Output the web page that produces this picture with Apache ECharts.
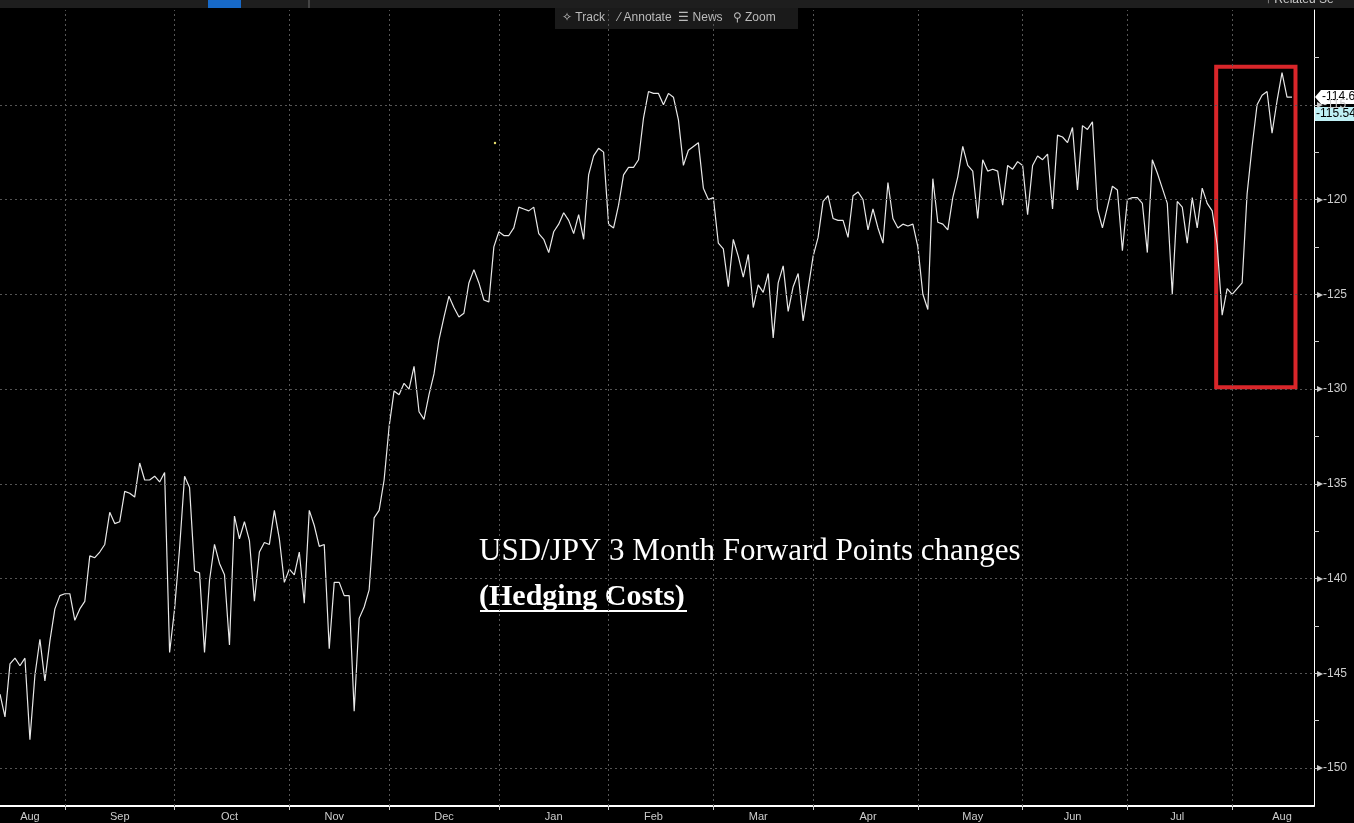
<!DOCTYPE html>
<html lang="en">
<head>
  <meta charset="UTF-8">
  <title>USD/JPY 3M Forward Points</title>
  <script src="https://cdn.jsdelivr.net/npm/echarts@6/dist/echarts.min.js"></script>
  <style>
    html, body { margin: 0; padding: 0; background: #000; }
    #chart { width: 1354px; height: 823px; }
  </style>
</head>
<body>
<div id="chart"></div>
<script>
  // daily forward points (Aug -> Aug)
  const points = [
    -146.1,-147.3,-144.5,-144.2,-144.6,-144.2,-148.5,-145.1,-143.2,-145.4,-143.3,-141.6,-140.9,-140.8,-140.8,-142.2,-141.6,-141.2,-138.8,-138.9,
    -138.6,-138.2,-136.5,-137.1,-137.0,-135.4,-135.5,-135.7,-133.9,-134.8,-134.8,-134.6,-134.9,-134.4,-143.9,-141.6,-138.4,-134.6,-135.2,-139.6,
    -139.7,-143.9,-140.1,-138.2,-139.2,-139.8,-143.5,-136.7,-137.9,-137.0,-138.0,-141.2,-138.6,-138.1,-138.2,-136.4,-137.9,-140.2,-139.5,-139.8,
    -138.6,-141.3,-136.4,-137.2,-138.3,-138.2,-143.7,-140.2,-140.2,-140.9,-140.9,-147.0,-142.1,-141.5,-140.6,-136.8,-136.4,-134.8,
    -132.0,-130.1,-130.3,-129.7,-130.0,-128.8,-131.2,-131.6,-130.3,-129.2,-127.4,-126.2,-125.1,-125.7,-126.2,-126.0,-124.4,-123.7,-124.4,-125.3,
    -125.4,-122.5,-121.7,-121.9,-121.9,-121.5,-120.4,-120.5,-120.6,-120.4,-121.8,-122.1,-122.8,-121.7,-121.3,-120.7,-121.1,-121.8,-120.8,-122.1,
    -118.7,-117.7,-117.3,-117.5,-121.3,-121.5,-120.3,-118.7,-118.3,-118.3,-117.9,-115.7,-114.3,-114.4,-114.4,-115.0,-114.4,-114.6,-115.8,-118.2,
    -117.4,-117.2,-117.0,-119.4,-120.0,-119.9,-122.3,-122.6,-124.6,-122.1,
    -123.0,-124.1,-122.9,-125.7,-124.5,-124.9,-123.9,-127.3,-124.4,-123.5,-125.9,-124.6,-123.9,-126.4,-124.7,-123.0,-122.0,-120.1,-119.8,-121.0,
    -121.1,-121.1,-122.0,-119.8,-119.6,-120.0,-121.6,-120.5,-121.5,-122.3,-119.1,-121.0,-121.5,-121.3,-121.4,-121.3,-122.5,-125.0,-125.8,-118.9,
    -121.2,-121.3,-121.6,-119.9,-118.8,-117.2,-118.2,-118.5,-121.0,-117.9,-118.5,-118.4,-118.5,-120.3,-118.2,-118.4,-118.0,-118.2,-120.8,-118.2,
    -117.7,-117.9,-117.6,-120.5,-116.6,-116.7,-117.0,-116.2,-119.5,-116.1,-116.3,-115.9,
    -120.5,-121.5,-120.4,-119.3,-119.5,-122.7,-120.0,-119.9,-119.9,-120.2,-122.8,-117.9,-118.6,-119.4,-120.2,-125.0,-120.1,-120.4,-122.3,-119.9,
    -121.5,-119.4,-120.2,-120.6,-122.4,-126.1,-124.7,-125.0,-124.7,-124.4,-119.7,-117.2,-115.0,-114.5,-114.3,-116.5,-114.8,-113.3,-114.6,-114.6
  ];
  // day index of each month boundary, and of each month label
  const monthTicks = [13, 35, 58, 78, 100, 122, 143, 163, 184, 205, 226, 247];
  const monthLabelPos = [6, 24, 46, 67, 89, 111, 131, 152, 174, 195, 215, 236, 257];
  const monthLabels = ['Aug','Sep','Oct','Nov','Dec','Jan','Feb','Mar','Apr','May','Jun','Jul','Aug'];
  const yTicks = [-150, -145, -140, -135, -130, -125, -120, -115];
  const yMinor = [-147.5, -142.5, -137.5, -132.5, -127.5, -122.5, -117.5, -112.5];
  const boxTop = -113.0, boxBottom = -129.9;

  const chart = echarts.init(document.getElementById('chart'));
  const n = points.length;
  const xMax = (n - 1) * 1314 / 1292;
  const data = points.map((v, i) => [i, v]);
  const allTicks = yTicks.concat(yMinor).sort((a, b) => a - b);

  const option = {
    backgroundColor: '#000',
    animation: false,
    grid: { left: 0, right: 40, top: 10, bottom: 17 },
    xAxis: [{
      type: 'value', min: 0, max: xMax,
      axisLine: { show: true, onZero: false, lineStyle: { color: '#fff', width: 2 } },
      axisTick: { show: true, customValues: monthTicks, length: 4, lineStyle: { color: '#ccc' } },
      axisLabel: { show: true, customValues: monthLabelPos, color: '#ccc', fontSize: 11, fontFamily: 'Liberation Sans',
        margin: 5, formatter: v => monthLabels[monthLabelPos.indexOf(v)] || '' },
      splitLine: { show: false }
    }],
    yAxis: {
      type: 'value', position: 'right', min: -152, max: -110,
      axisLine: { show: true, onZero: false, lineStyle: { color: '#fff', width: 1 } },
      axisTick: { show: true, customValues: allTicks, length: 5, lineStyle: { color: '#ccc' } },
      axisLabel: { customValues: yTicks, color: '#ccc', fontSize: 12, fontFamily: 'Liberation Sans', margin: 3,
        formatter: v => '▸-' + Math.abs(v) },
      splitLine: { show: false }
    },
    series: [{
      type: 'line', data: data, symbol: 'none', silent: true,
      lineStyle: { color: '#e8e8e8', width: 1.2 },
      markLine: {
        silent: true, symbol: 'none', label: { show: false },
        lineStyle: { color: '#555', type: [2, 3], width: 1 },
        data: yTicks.map(v => ({ yAxis: v })).concat(monthTicks.map(v => ({ xAxis: v })))
      },
      markArea: {
        silent: true,
        itemStyle: { color: 'rgba(0,0,0,0)', borderColor: '#d9262a', borderWidth: 4 },
        data: [[{ coord: [n - 1 - 15.2, boxTop] }, { coord: [n - 1 + 0.7, boxBottom] }]]
      }
    }],
    graphic: [
      { type: 'rect', shape: { x: 0, y: 0, width: 1354, height: 8 }, style: { fill: '#1e1e1e' } },
      { type: 'rect', shape: { x: 208, y: 0, width: 33, height: 8 }, style: { fill: '#1769c8' } },
      { type: 'rect', shape: { x: 308, y: 0, width: 2, height: 8 }, style: { fill: '#444' } },
      { type: 'rect', shape: { x: 555, y: 8, width: 243, height: 21 }, style: { fill: '#1a1a1a' } },
      { type: 'text', left: 562, top: 12, style: { text: '✧ Track    ⁄ Annotate  ☰ News   ⚲ Zoom', fill: '#bbb', font: '12px Liberation Sans' } },
      { type: 'text', left: 1265, top: -6, style: { text: '↑ Related Se', fill: '#ccc', font: '12px Liberation Sans' } },
      { type: 'circle', shape: { cx: 495, cy: 143, r: 1.2 }, style: { fill: '#e8e070' } },
      { type: 'polygon', shape: { points: [[1315, 97], [1321, 90], [1354, 90], [1354, 104], [1321, 104]] }, style: { fill: '#fff' } },
      { type: 'text', left: 1322, top: 91, style: { text: '-114.6', fill: '#000', font: '12px Liberation Sans' } },
      { type: 'rect', shape: { x: 1315, y: 107, width: 39, height: 14 }, style: { fill: '#bff0f5' } },
      { type: 'text', left: 1316, top: 108, style: { text: '-115.54', fill: '#000', font: '12px Liberation Sans' } },
      { type: 'text', left: 479, top: 536, style: { text: 'USD/JPY 3 Month Forward Points changes', fill: '#fff', font: '31px Liberation Serif' } },
      { type: 'text', left: 479, top: 582, style: { text: '(Hedging Costs)', fill: '#fff', font: 'bold 30px Liberation Serif' } },
      { type: 'rect', shape: { x: 480, y: 610, width: 207, height: 2 }, style: { fill: '#fff' } }
    ]
  };
  chart.setOption(option);
</script>
</body>
</html>
